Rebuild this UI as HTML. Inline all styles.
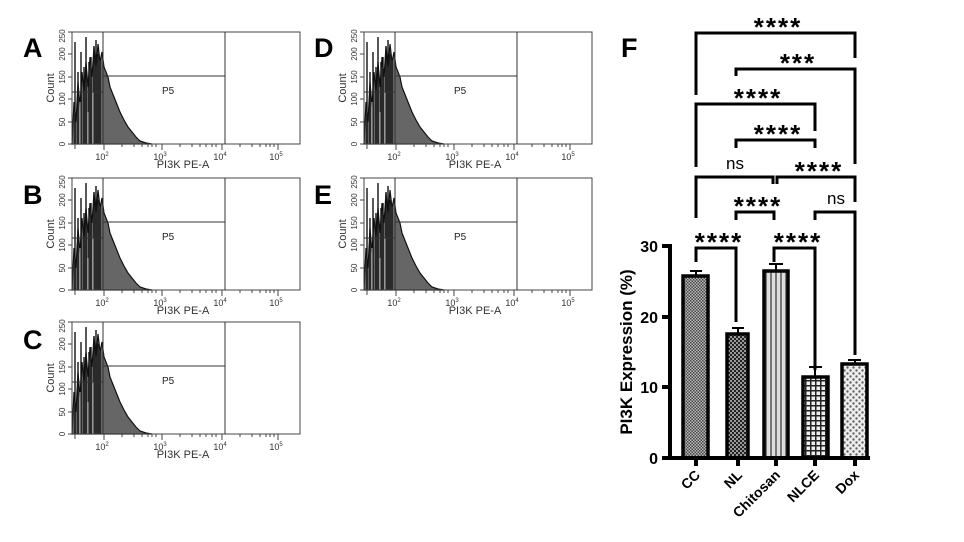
<!DOCTYPE html>
<html><head><meta charset="utf-8"><style>
html,body{margin:0;padding:0;background:#fff;}
svg{display:block;font-family:"Liberation Sans",Arial,sans-serif;}
</style></head><body>
<svg width="964" height="542" viewBox="0 0 964 542" xmlns="http://www.w3.org/2000/svg">
<defs>
<pattern id="pCC" width="3" height="3" patternUnits="userSpaceOnUse"><rect width="3" height="3" fill="#bbb"/><rect width="1.5" height="1.5" fill="#444"/><rect x="1.5" y="1.5" width="1.5" height="1.5" fill="#444"/></pattern>
<pattern id="pNL" width="4" height="4" patternUnits="userSpaceOnUse"><rect width="4" height="4" fill="#999"/><rect width="2" height="2" fill="#222"/><rect x="2" y="2" width="2" height="2" fill="#222"/></pattern>
<pattern id="pCH" width="5" height="5" patternUnits="userSpaceOnUse"><rect width="5" height="5" fill="#ddd"/><rect width="2" height="5" fill="#777"/></pattern>
<pattern id="pNLCE" width="5" height="5" patternUnits="userSpaceOnUse"><rect width="5" height="5" fill="#eee"/><rect width="1.5" height="5" fill="#222"/><rect width="5" height="1.5" fill="#222"/></pattern>
<pattern id="pDX" width="6" height="6" patternUnits="userSpaceOnUse"><rect width="6" height="6" fill="#eee"/><circle cx="1.5" cy="1.5" r="1.2" fill="#666"/><circle cx="4.5" cy="4.5" r="1.2" fill="#666"/></pattern>
<g id="panel">
  <path d="M0,112 L2,70 L4,90 L6,50 L8,75 L10,40 L12,60 L14,30 L16,55 L18,25 L20,45 L22,15 L24,35 L26,12 L28,30 L30,20 L32,35 L34,40 L36,45 L38,55 L40,60 L44,70 L48,80 L52,88 L56,95 L60,100 L64,105 L68,109 L74,111 L80,112 Z" fill="#666" stroke="#111" stroke-width="1.2"/>
  <g stroke="#111" stroke-width="1.4">
    <line x1="3" y1="112" x2="3" y2="10"/><line x1="6" y1="112" x2="6" y2="40"/><line x1="9" y1="112" x2="9" y2="20"/><line x1="12" y1="112" x2="12" y2="35"/><line x1="14" y1="112" x2="14" y2="5"/><line x1="17" y1="112" x2="17" y2="30"/><line x1="19" y1="112" x2="19" y2="25"/><line x1="22" y1="112" x2="22" y2="14"/><line x1="24" y1="112" x2="24" y2="8"/><line x1="26" y1="112" x2="26" y2="22"/><line x1="28" y1="112" x2="28" y2="30"/>
  </g>
  <g stroke="#ddd" stroke-width="0.8">
    <line x1="8" y1="112" x2="8" y2="70"/><line x1="16" y1="112" x2="16" y2="80"/><line x1="21" y1="112" x2="21" y2="60"/>
  </g>
  <rect x="0" y="0" width="228" height="112" fill="none" stroke="#444" stroke-width="1"/>
  <g stroke="#333" stroke-width="1">
    <line x1="31" y1="0" x2="31" y2="112"/><line x1="153" y1="0" x2="153" y2="112"/>
    <line x1="31" y1="44" x2="153" y2="44"/><line x1="0" y1="60" x2="31" y2="60"/>
  </g>
  <text x="90" y="62" font-size="10" fill="#222">P5</text>
  <g stroke="#444" stroke-width="1">
    <line x1="-4" y1="112" x2="0" y2="112"/><line x1="-4" y1="90" x2="0" y2="90"/><line x1="-4" y1="67" x2="0" y2="67"/><line x1="-4" y1="45" x2="0" y2="45"/><line x1="-4" y1="22" x2="0" y2="22"/><line x1="-4" y1="0" x2="0" y2="0"/>
    <line x1="3" y1="112" x2="3" y2="117"/><line x1="32" y1="112" x2="32" y2="118"/><line x1="90" y1="112" x2="90" y2="118"/><line x1="150" y1="112" x2="150" y2="118"/><line x1="206" y1="112" x2="206" y2="118"/>
    <line x1="50" y1="112" x2="50" y2="115"/><line x1="62" y1="112" x2="62" y2="115"/><line x1="70" y1="112" x2="70" y2="115"/><line x1="76" y1="112" x2="76" y2="115"/><line x1="80" y1="112" x2="80" y2="115"/><line x1="84" y1="112" x2="84" y2="115"/>
    <line x1="108" y1="112" x2="108" y2="115"/><line x1="120" y1="112" x2="120" y2="115"/><line x1="128" y1="112" x2="128" y2="115"/><line x1="134" y1="112" x2="134" y2="115"/><line x1="140" y1="112" x2="140" y2="115"/><line x1="144" y1="112" x2="144" y2="115"/>
    <line x1="168" y1="112" x2="168" y2="115"/><line x1="180" y1="112" x2="180" y2="115"/><line x1="188" y1="112" x2="188" y2="115"/><line x1="194" y1="112" x2="194" y2="115"/><line x1="198" y1="112" x2="198" y2="115"/><line x1="202" y1="112" x2="202" y2="115"/>
  </g>
  <g font-size="8" fill="#333" text-anchor="middle">
    <text transform="translate(-7,112) rotate(-90)">0</text>
    <text transform="translate(-7,90) rotate(-90)">50</text>
    <text transform="translate(-7,67) rotate(-90)">100</text>
    <text transform="translate(-7,45) rotate(-90)">150</text>
    <text transform="translate(-7,22) rotate(-90)">200</text>
    <text transform="translate(-7,4) rotate(-90)">250</text>
    <text transform="translate(-18,56) rotate(-90)" font-size="11">Count</text>
  </g>
  <g font-size="9" fill="#333" text-anchor="middle">
    <text x="30" y="128">10<tspan font-size="6" dy="-4">2</tspan></text>
    <text x="88" y="128">10<tspan font-size="6" dy="-4">3</tspan></text>
    <text x="148" y="128">10<tspan font-size="6" dy="-4">4</tspan></text>
    <text x="204" y="128">10<tspan font-size="6" dy="-4">5</tspan></text>
    <text x="111" y="136" font-size="11">PI3K PE-A</text>
  </g>
</g>
</defs>

<use href="#panel" x="72" y="32"/>
<use href="#panel" x="72" y="178"/>
<use href="#panel" x="72" y="322"/>
<use href="#panel" x="364" y="32"/>
<use href="#panel" x="364" y="178"/>

<g font-size="27" font-weight="bold" fill="#000">
  <text x="23" y="57">A</text>
  <text x="23" y="204">B</text>
  <text x="23" y="349">C</text>
  <text x="314" y="57">D</text>
  <text x="314" y="204">E</text>
  <text x="621" y="57">F</text>
</g>

<!-- bar chart -->
<g stroke="#000" stroke-width="3.5">
  <rect x="683" y="276" width="25" height="182" fill="url(#pCC)"/>
  <rect x="727" y="334" width="21" height="124" fill="url(#pNL)"/>
  <rect x="764" y="271" width="24" height="187" fill="url(#pCH)"/>
  <rect x="803" y="377" width="25" height="81" fill="url(#pNLCE)"/>
  <rect x="842" y="364" width="25" height="94" fill="url(#pDX)"/>
</g>
<g stroke="#000" stroke-width="2" fill="none">
  <path d="M690,271 H702 M696,271 V276"/>
  <path d="M732,328 H744 M738,328 V334"/>
  <path d="M769,264 H783 M776,264 V271"/>
  <path d="M809,367 H822 M815,367 V377"/>
  <path d="M848,360 H861 M855,360 V364"/>
</g>
<g stroke="#000" stroke-width="4" fill="none">
  <path d="M670,244 V458 H870"/>
  <path d="M662,246 H670 M662,317 H670 M662,387 H670 M662,458 H670"/>
  <path d="M696,458 V466 M738,458 V466 M776,458 V466 M815,458 V466 M855,458 V466"/>
</g>
<g font-size="16" font-weight="bold" text-anchor="end">
  <text x="658" y="252">30</text><text x="658" y="323">20</text><text x="658" y="393">10</text><text x="658" y="464">0</text>
</g>
<text transform="translate(632,352) rotate(-90)" font-size="17" font-weight="bold" text-anchor="middle">PI3K Expression (%)</text>
<g font-size="14" font-weight="bold" text-anchor="end">
  <text transform="translate(701,476) rotate(-45)">CC</text>
  <text transform="translate(743,476) rotate(-45)">NL</text>
  <text transform="translate(781,476) rotate(-45)">Chitosan</text>
  <text transform="translate(820,476) rotate(-45)">NLCE</text>
  <text transform="translate(860,476) rotate(-45)">Dox</text>
</g>

<!-- brackets -->
<g stroke="#000" stroke-width="3" fill="none">
  <path d="M696,95 V33 H855 V58"/>
  <path d="M736,76 V69 H855 V164"/>
  <path d="M696,167 V104 H815 V131"/>
  <path d="M736,148 V140 H815 V148"/>
  <path d="M696,218 V177 H773 V184"/>
  <path d="M777,184 V177 H855 V202"/>
  <path d="M736,220 V212 H774 V220"/>
  <path d="M815,220 V212 H855 V355"/>
  <path d="M696,262 V248 H736 V322"/>
  <path d="M774,262 V248 H815 V370"/>
</g>
<g font-size="26" font-weight="bold" text-anchor="middle" letter-spacing="2">
  <text x="778" y="36">****</text>
  <text x="798" y="72">***</text>
  <text x="758" y="107">****</text>
  <text x="778" y="143">****</text>
  <text x="819" y="180">****</text>
  <text x="758" y="215">****</text>
  <text x="719" y="251">****</text>
  <text x="798" y="251">****</text>
</g>
<g font-size="17" text-anchor="middle">
  <text x="735" y="169">ns</text>
  <text x="836" y="204">ns</text>
</g>
</svg>
</body></html>
